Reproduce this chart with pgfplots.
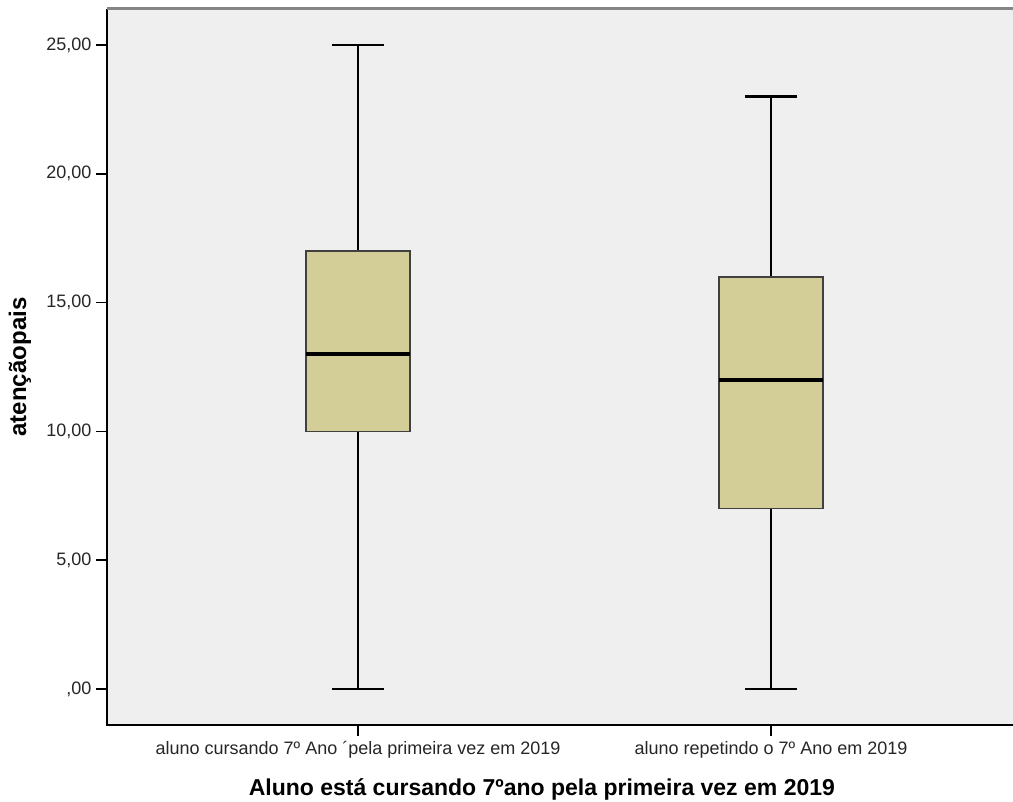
\documentclass[border=0pt]{standalone}
\usepackage{fontspec}
\setmainfont{Liberation Sans}
\usepackage{pgfplots}
\pgfplotsset{compat=1.18}
\usepgfplotslibrary{statistics}
\definecolor{bgc}{HTML}{EFEFEF}
\definecolor{boxfill}{HTML}{D3CE97}
\definecolor{topc}{HTML}{858585}
\begin{document}
\begin{tikzpicture}[x=1pt,y=1pt]
\path[use as bounding box] (0,0) rectangle (1013,802);
\begin{axis}[
  at={(107pt,77pt)}, anchor=south west,
  scale only axis, width=906pt, height=716pt,
  xmin=0.392, xmax=2.586, ymin=-1.4, ymax=26.4,
  axis background/.style={fill=bgc},
  axis line style={draw=none},
  xtick={1,2},
  xticklabels={aluno cursando 7º Ano ´pela primeira vez em 2019, aluno repetindo o 7º Ano em 2019},
  ytick={0,5,10,15,20,25},
  yticklabels={{,00},{5,00},{10,00},{15,00},{20,00},{25,00}},
  tick pos=left, tick align=outside,
  major tick length=11pt,
  every tick/.style={black, line width=1.5pt},
  ticklabel style={font=\fontsize{18}{21}\selectfont, text=black!85},
  xticklabel style={yshift=-2pt},
  yticklabel style={xshift=-1pt},
  /pgf/number format/assume math mode=true,
  xlabel={Aluno está cursando 7ºano pela primeira vez em 2019},
  ylabel={atençãopais},
  xlabel style={font=\bfseries\fontsize{23}{26}\selectfont, at={(axis description cs:0.48,-0.0894)}, anchor=center},
  ylabel style={font=\bfseries\fontsize{24}{27}\selectfont, at={(axis description cs:-0.096,0.5)}, anchor=center},
  boxplot/draw direction=y,
  boxplot/box extend=0.252,
  boxplot/whisker extend=0.126,
  boxplot/every median/.style={line width=4pt, black},
  boxplot/every whisker/.style={line width=2.2pt, black},
  boxplot/every box/.style={line width=1.6pt, draw=black!75, fill=boxfill},
  clip=false,
]
\addplot+[mark=none, solid, black, boxplot prepared={lower whisker=0, lower quartile=10, median=13, upper quartile=17, upper whisker=25, draw position=1}] coordinates {};
\addplot+[mark=none, solid, black, boxplot prepared={lower whisker=0, lower quartile=7, median=12, upper quartile=16, upper whisker=23, draw position=2}] coordinates {};
\draw[black, line width=2pt] (rel axis cs:0,1) -- (rel axis cs:0,0) -- (rel axis cs:1,0);
\draw[topc, line width=3pt] (rel axis cs:0,1) -- (rel axis cs:1,1);
\end{axis}
\end{tikzpicture}
\end{document}
